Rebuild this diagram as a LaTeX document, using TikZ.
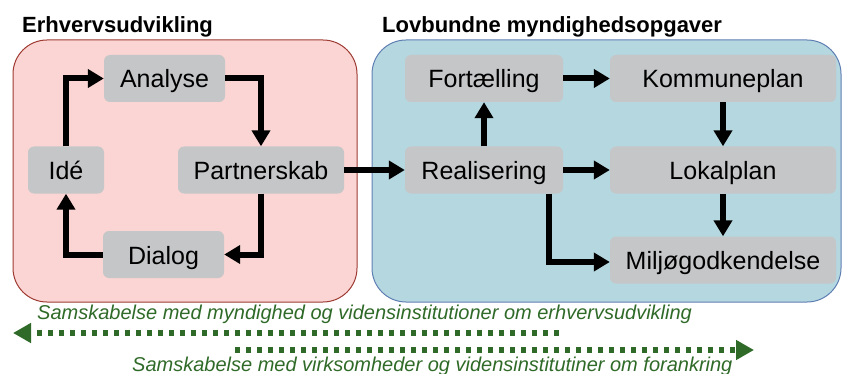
\documentclass[tikz,border=0pt]{standalone}
\usepackage{fontspec}
\setmainfont{Liberation Sans}
\usepackage{xcolor}
\usetikzlibrary{arrows.meta}
\usetikzlibrary{positioning}

\definecolor{zonered}{HTML}{FAD5D3}
\definecolor{zoneredline}{HTML}{9E3B33}
\definecolor{zoneblue}{HTML}{B5D7DF}
\definecolor{zoneblueline}{HTML}{5F7FB3}
\definecolor{procgray}{HTML}{C5C6C8}
\definecolor{cogreen}{HTML}{2F6A28}

\begin{document}
\begin{tikzpicture}[x=1pt, y=-1pt,
	zone/.style={rectangle, rounded corners=34pt, draw, line width=1pt,
				minimum width=#1, minimum height=262pt},
	proc/.style={rectangle, rounded corners=6pt, fill=procgray, inner sep=0pt,
				text height=19pt, text depth=0pt,
				font=\fontsize{25}{30}\selectfont, minimum width=#1, minimum height=47pt},
	title/.style={anchor=base west, inner sep=0pt, font=\fontsize{22}{26}\selectfont\bfseries},
	flow/.style={line width=6pt, line join=miter, -{Triangle[length=16pt, width=18pt]}},
	cocreate/.style={cogreen, line width=6pt, dash pattern=on 5pt off 6pt,
				-{Triangle[length=18pt, width=19pt]}},
	cotext/.style={anchor=base west, inner sep=0pt, text=cogreen,
				font=\fontsize{20}{24}\selectfont\itshape},
]
\useasboundingbox (0,0) rectangle (842,374);

% zones
\node [zone=344pt, fill=zonered, draw=zoneredline]   (erhverv) at (185,171) {};
\node [zone=469pt, fill=zoneblue, draw=zoneblueline] (lov)     at (606.5,171) {};
\node [title] (terhverv) at (22,33)  {Erhvervsudvikling};
\node [title] (tlov)     at (382,33) {Lovbundne myndighedsopgaver};

% erhvervsudvikling
\node [proc=121pt] (analyse) at (164.5,78.5) {Analyse};
\node [proc=76pt]  (ide)     at (66,170)     {Idé};
\node [proc=166pt] (partner) at (261,170)    {Partnerskab};
\node [proc=121pt] (dialog)  at (163.5,254.5) {Dialog};

% myndighedsopgaver
\node [proc=158pt] (fort)    at (484,78.5) {Fortælling};
\node [proc=226pt] (kommune) at (723,78.5) {Kommuneplan};
\node [proc=158pt] (real)    at (484,170)  {Realisering};
\node [proc=226pt] (lokal)   at (723,170)  {Lokalplan};
\node [proc=226pt] (miljo)   at (723,260)  {Miljøgodkendelse};
%
\draw [flow] (ide.north) |- (analyse.west);
\draw [flow] (analyse.east) -| (partner.north);
\draw [flow] (partner.south) |- (dialog.east);
\draw [flow] (dialog.west) -| (ide.south);
\draw [flow] (partner.east) -- (real.west);
\draw [flow] (real.north) -- (fort.south);
\draw [flow] (fort.east) -- (kommune.west);
\draw [flow] (kommune.south) -- (lokal.north);
\draw [flow] (real.east) -- (lokal.west);
\draw [flow] (lokal.south) -- (miljo.north);
\draw [flow] ([xshift=65pt]real.south) |- ([yshift=-2pt]miljo.west);

% samskabelse
\coordinate (myndstart) at (559,333);
\coordinate (myndend)   at (13,333);
\coordinate (virkstart) at (235,350);
\coordinate (virkend)   at (754,350);
\draw [cocreate] (myndstart) -- (myndend);
\draw [cocreate] (virkstart) -- (virkend);
\node [cotext] (tmynd) at (37,319)  {Samskabelse med myndighed og vidensinstitutioner om erhvervsudvikling};
\node [cotext] (tvirk) at (132,371) {Samskabelse med virksomheder og vidensinstitutiner om forankring};
\end{tikzpicture}
\end{document}
